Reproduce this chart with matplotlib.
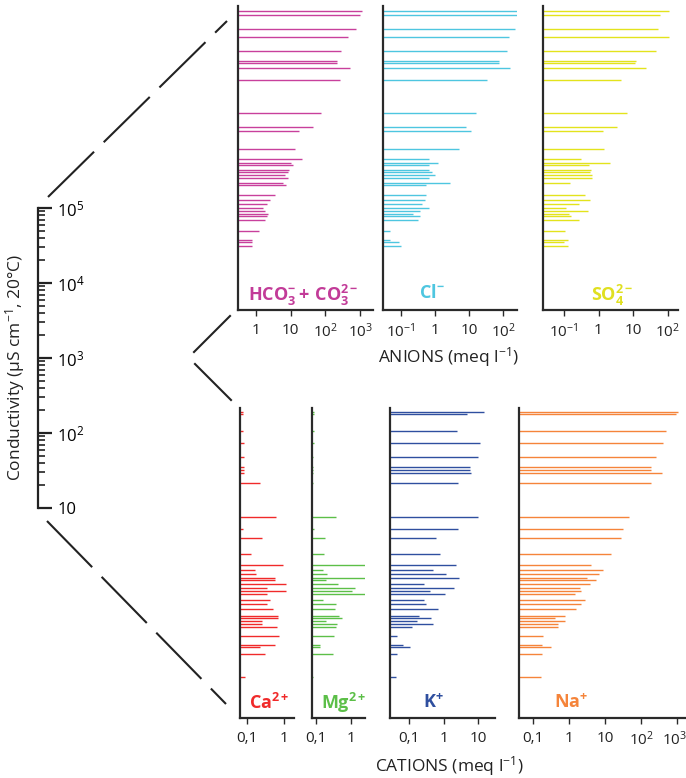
import numpy as np
import matplotlib
matplotlib.use('Agg')
import matplotlib.pyplot as plt
from matplotlib.transforms import ScaledTranslation

plt.rcParams['font.family'] = ['Open Sans', 'DejaVu Sans']
plt.rcParams['mathtext.fontset'] = 'custom'
plt.rcParams['mathtext.rm'] = 'Open Sans'
plt.rcParams['mathtext.it'] = 'Open Sans:italic'
plt.rcParams['mathtext.bf'] = 'Open Sans:bold'

# conductivity of each sample (uS/cm, 20 C) - high range (anions)
anion_cond = [116000, 110000, 88000, 77500, 62600, 53000, 51400, 47500, 39800,
              23800, 19200, 18000, 13600, 11600, 10900, 10500, 9770, 9460,
              8990, 8660, 8010, 7730, 6580, 6090, 5750, 5370, 5170, 4940,
              4740, 4500, 3790, 3290, 3160, 2990]
# meq/l
hco3 = [1170, 1000, 760, 460, 275, 215, 215, 510, 265, 74, 44, 18, 13, 21,
        10.5, 11.5, 9.1, 8.7, 6.9, 8.5, 5.9, 7.4, 3.5, 2.5, 2.1, 1.6, 1.8,
        2.3, 2.1, 1.9, 1.26, 0.76, 0.76, 0.76]
cl = [390, 600, 225, 150, 130, 76, 76, 155, 33, 16, 8.3, 11.7, 5.1, 0.65,
      1.2, 0.66, 0.68, 0.81, 1.0, 0.65, 2.7, 0.56, 0.55, 0.50, 0.40, 0.65,
      0.35, 0.22, 0.35, 0.31, 0.048, 0.047, 0.085, 0.10]
so4 = [105, 59, 51, 107, 46, 12.3, 11.2, 23, 4.5, 6.8, 3.4, 1.35, 1.45, 0.31,
       2.1, 0.54, 0.62, 0.58, 0.63, 0.63, 0.155, np.nan, 0.41, 0.56, 0.28,
       0.112, 0.51, 0.145, 0.166, 0.27, 0.105, 0.13, 0.10, 0.13]

# low range (cations)
cation_cond = [838, 805, 628, 524, 424, 361, 348, 332, 283, 171, 141, 124,
               96.6, 82.5, 76.2, 72.0, 67.7, 65.4, 61.5, 57.7, 55.4, 53.2,
               48.1, 45.3, 42.0, 38.1, 36.8, 35.0, 33.7, 32.1, 28.1, 24.5,
               23.7, 21.4, 15.1]
ca = [0.076, 0.076, 0.076, 0.085, 0.085, 0.083, 0.083, 0.083, 0.22, 0.60,
      0.076, 0.26, 0.13, 0.95, 0.16, 0.18, 0.56, 0.56, 1.12, 0.35, 1.12,
      0.34, 0.41, 0.35, 0.49, 0.68, 0.68, 0.26, 0.26, 0.65, 0.74, 0.56,
      0.23, 0.30, 0.087]
mg = [0.091, 0.087, 0.087, 0.091, 0.085, 0.081, 0.081, 0.081, 0.081, 0.37,
      0.091, 0.18, 0.17, 4.3, 0.16, 0.21, 2.8, 0.19, 0.44, 1.29, 1.05, 2.75,
      0.16, 0.38, 0.35, 0.46, 0.56, 0.20, 0.41, 0.37, 0.33, 0.13, 0.135,
      0.30, 0.083]
k = [15, 4.9, 2.45, 11.2, 10, 6.0, 5.9, 6.3, 2.6, 10.2, 2.7, 0.59, 0.81, 2.3,
     0.50, 1.2, 2.8, np.nan, 0.28, 2.0, 0.41, 1.07, 0.275, 0.32, 0.68, 0.20,
     0.43, 0.17, 0.50, 0.12, 0.044, 0.065, 0.107, 0.044, 0.043]
na = [1070, 930, 500, 410, 265, 186, 190, 370, 186, 45, 32, 27, 15, 4.1, 8.7,
      6.8, 3.1, 5.5, 3.8, 2.0, 2.1, 1.45, 2.8, 2.2, 1.6, 0.76, 0.42, 0.76,
      0.49, 0.49, 0.195, 0.18, 0.32, 0.18, 0.166]

W, H = 686, 778


def box(x0, y0, x1, y1):
    return [x0 / W, 1 - y1 / H, (x1 - x0) / W, (y1 - y0) / H]


fig = plt.figure(figsize=(W / 100, H / 100), dpi=100)

bg = fig.add_axes([0, 0, 1, 1])
bg.set_xlim(0, W)
bg.set_ylim(H, 0)
bg.axis('off')

dash = (0, (31, 6.5))
bg.plot([48, 227], [197, 21], color='#222222', lw=1.5, ls=dash, solid_capstyle='butt')
bg.plot([47, 226], [521, 704], color='#222222', lw=1.5, ls=dash, solid_capstyle='butt')
bg.plot([194, 230], [352, 316], color='#222222', lw=1.5)
bg.plot([195, 231], [364, 400], color='#222222', lw=1.5)


def panel(rect, cond, vals, color, lo, hi, ylo, yhi, ticks, labels):
    ax = fig.add_axes(box(*rect))
    ax.set_xscale('log')
    ax.set_yscale('log')
    ax.set_xlim(10 ** lo, 10 ** hi)
    ax.set_ylim(10 ** ylo, 10 ** yhi)
    v = np.array(vals, dtype=float)
    c = np.array(cond, dtype=float)
    m = ~np.isnan(v)
    ax.hlines(c[m], 10 ** lo, v[m], color=color, lw=1.0)
    ax.set_xticks(ticks, labels)
    ax.minorticks_off()
    ax.set_yticks([])
    for s in ['top', 'right']:
        ax.spines[s].set_visible(False)
    for s in ['left', 'bottom']:
        ax.spines[s].set_linewidth(1.6)
        ax.spines[s].set_color('#2a2a2a')
    ax.tick_params(axis='x', length=4, width=1, color='#2a2a2a',
                   labelsize=11, pad=5, labelcolor='#222222')
    ax.patch.set_alpha(0)
    return ax


top_y = (3.04, 5.10)
bot_y = (0.908, 2.947)
dec = ['10$^{-1}$', '1', '10', '10$^2$']

panel((238, 6, 373, 310), anion_cond, hco3, '#c8409c', -0.51, 3.37, *top_y,
      [1, 10, 100, 1000], ['1', '10', '10$^2$', '10$^3$'])
panel((383, 6, 517, 310), anion_cond, cl, '#4ec6e0', -1.53, 2.41, *top_y,
      [0.1, 1, 10, 100], dec)
panel((543, 6, 678, 310), anion_cond, so4, '#e3e31c', -1.6, 2.29, *top_y,
      [0.1, 1, 10, 100], dec)

panel((240, 408, 294, 718), cation_cond, ca, '#f02a2a', -1.19, 0.27, *bot_y,
      [0.1, 1], ['0,1', '1'])
panel((312, 408, 365, 718), cation_cond, mg, '#5cbf48', -1.11, 0.40, *bot_y,
      [0.1, 1], ['0,1', '1'])
panel((390, 408, 495, 718), cation_cond, k, '#2f4f9f', -1.55, 1.49, *bot_y,
      [0.1, 1, 10], ['0,1', '1', '10'])
ax_na = panel((519, 408, 685, 718), cation_cond, na, '#f5843a', -1.39, 3.22, *bot_y,
              [0.1, 1, 10, 100, 1000], ['0,1', '1', '10', '10$^2$', '10$^3$'])
# nudge the last label so it stays inside the figure
last = ax_na.get_xticklabels()[-1]
last.set_transform(last.get_transform() + ScaledTranslation(-0.03, 0, fig.dpi_scale_trans))

# conductivity scale
cax = fig.add_axes(box(37, 208, 38, 508))
cax.set_yscale('log')
cax.set_ylim(10, 1e5)
cax.set_xticks([])
for s in ['top', 'left', 'bottom']:
    cax.spines[s].set_visible(False)
cax.spines['right'].set_linewidth(1.6)
cax.spines['right'].set_color('#222222')
cax.yaxis.tick_right()
cax.set_yticks([10, 100, 1e3, 1e4, 1e5], ['10', '10$^2$', '10$^3$', '10$^4$', '10$^5$'])
cax.tick_params(axis='y', which='major', length=10, width=1.6, direction='out',
                labelsize=12, pad=4, color='#222222')
cax.tick_params(axis='y', which='minor', length=5, width=1.2, direction='out',
                color='#222222')
cax.patch.set_alpha(0)

bg.text(15, 367, 'Conductivity (µS cm$^{-1}$, 20°C)', rotation=90,
        ha='center', va='center', fontsize=12.5, color='#222222')

bg.text(449, 357, 'ANIONS (meq l$^{-1}$)', ha='center', va='center',
        fontsize=12.5, color='#222222')
bg.text(449, 766, 'CATIONS (meq l$^{-1}$)', ha='center', va='center',
        fontsize=12.5, color='#222222')

lab = dict(ha='center', va='center', fontsize=13)
bg.text(303, 295, r'$\mathbf{HCO_3^{-}+\,CO_3^{2-}}$', color='#c23b98', **lab)
bg.text(432, 293, r'$\mathbf{Cl^{-}}$', color='#4ec6e0', **lab)
bg.text(612, 295, r'$\mathbf{SO_4^{2-}}$', color='#e0e020', **lab)
bg.text(269, 703, r'$\mathbf{Ca^{2+}}$', color='#f02a2a', **lab)
bg.text(344, 703, r'$\mathbf{Mg^{2+}}$', color='#5cbf48', **lab)
bg.text(433, 703, r'$\mathbf{K^{+}}$', color='#2f4f9f', **lab)
bg.text(571, 703, r'$\mathbf{Na^{+}}$', color='#f5843a', **lab)

fig.savefig('out.png', dpi=100)
